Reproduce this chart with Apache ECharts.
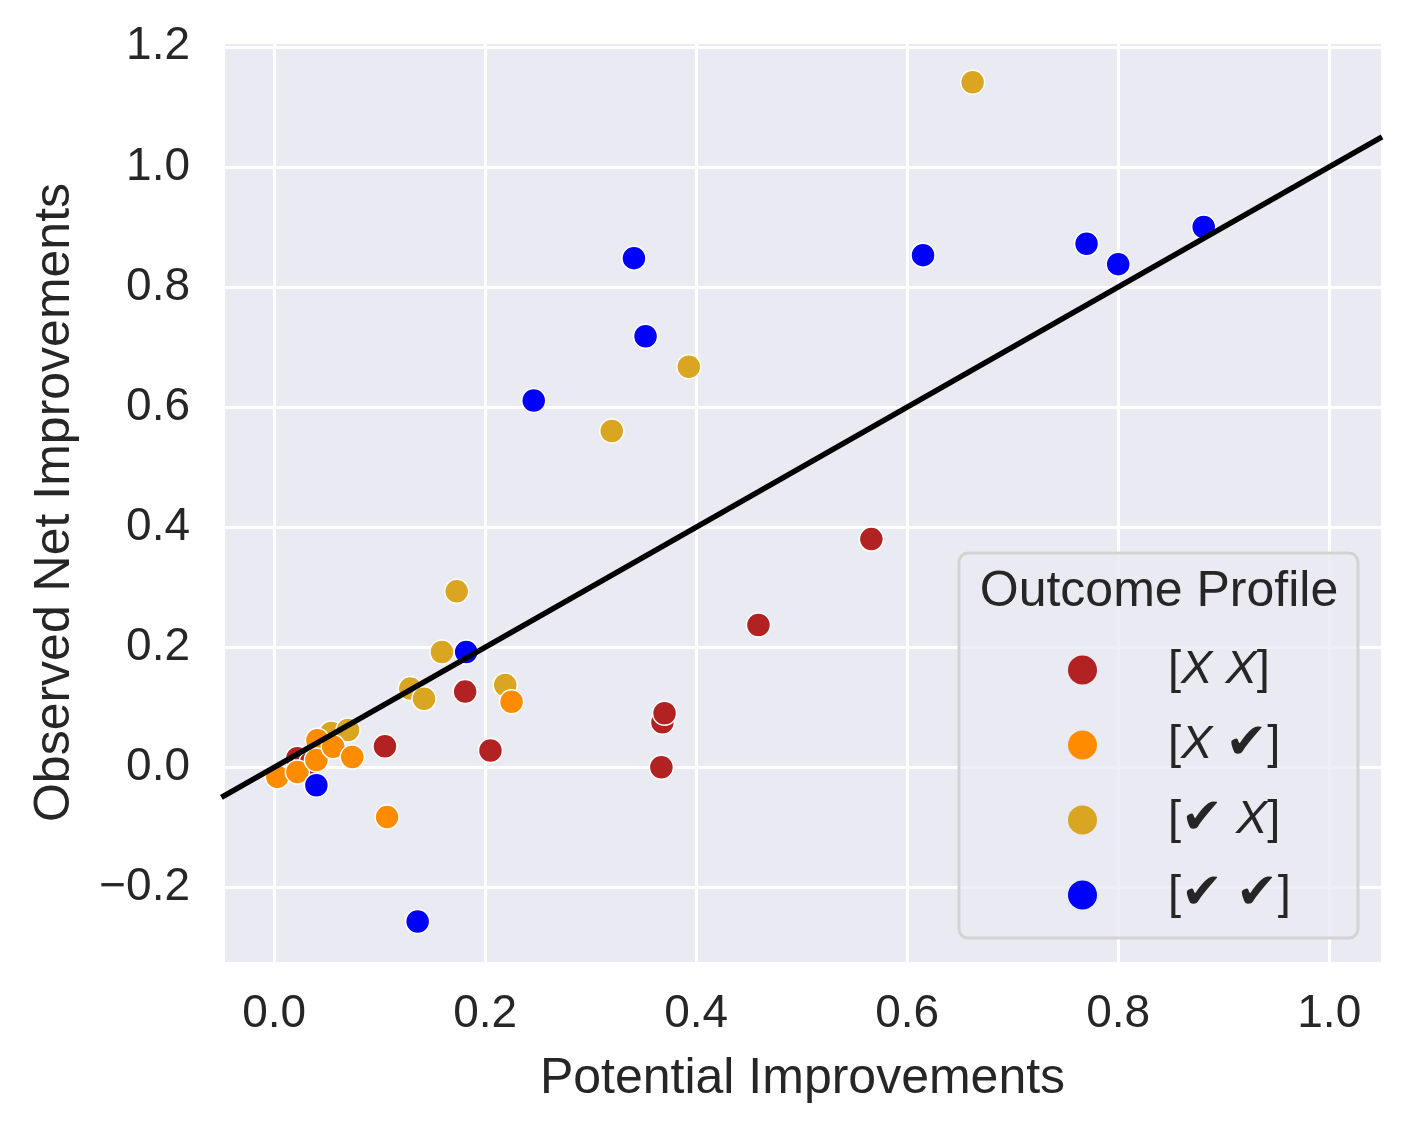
<!DOCTYPE html>
<html lang="en">
<head>
    <meta charset="UTF-8">
    <title>Outcome Profile</title>
    <script type="text/javascript" src="https://cdn.jsdelivr.net/npm/echarts@6/dist/echarts.min.js"></script>
    <style>
        html, body { margin: 0; padding: 0; background: #fff; }
    </style>
</head>
<body>
<div id="main" style="width: 1413px;height:1132px;"></div>

<script type="text/javascript">
    // data: [potential, observed]
    var profileNames = ['[X X]', '[X ✔]', '[✔ X]', '[✔ ✔]'];
    var profileColors = ['#b22222', '#ff8c00', '#daa520', '#0000ff'];

    var xxPoints = [[0.022, 0.015], [0.030, 0.009], [0.035, 0.008], [0.105, 0.035], [0.181, 0.126],
        [0.205, 0.028], [0.367, 0.000], [0.368, 0.075], [0.370, 0.090], [0.459, 0.237], [0.566, 0.380]];
    var xcPoints = [[0.003, -0.016], [0.022, -0.008], [0.041, 0.045], [0.040, 0.012], [0.056, 0.034],
        [0.074, 0.017], [0.107, -0.083], [0.225, 0.109]];
    var cxPoints = [[0.054, 0.057], [0.070, 0.062], [0.129, 0.131], [0.142, 0.114], [0.159, 0.192],
        [0.173, 0.293], [0.219, 0.137], [0.320, 0.560], [0.393, 0.667], [0.662, 1.141]];
    var ccPoints = [[0.040, -0.030], [0.136, -0.257], [0.182, 0.192], [0.246, 0.611], [0.341, 0.848],
        [0.352, 0.718], [0.615, 0.853], [0.770, 0.872], [0.800, 0.838], [0.881, 0.900]];

    // y = x reference line
    var refLine = [[-0.05, -0.05], [1.05, 1.05]];

    var xRange = [-0.0485, 1.05];
    var yRange = [-0.326, 1.208];

    var textColor = '#262626';
    var fontFamily = '"Liberation Sans", Arial, "DejaVu Sans", sans-serif';

    function tickLabel(v) {
        var k = v / 0.2;
        if (Math.abs(k - Math.round(k)) > 1e-6) return '';
        var s = Math.abs(v).toFixed(1);
        return v < -1e-9 ? '\u2212' + s : s;
    }

    // legend label: italic X, heavy check marks
    function legendLabel(name) {
        var body = name.replace(/X/g, '{i|X}').replace(/✔/g, '{c|✔}');
        return '{sp| }' + body.replace('[', '{t|[}').replace(']', '{t|]}').replace(' ', '{g| }');
    }

    var pointSets = [xxPoints, xcPoints, cxPoints, ccPoints];
    // drawing order in the picture: red, goldenrod, orange, blue
    var pointZ = [2, 4, 3, 5];

    var series = pointSets.map(function (pts, i) {
        return {
            name: profileNames[i],
            type: 'scatter',
            data: pts,
            symbolSize: 24,
            z: pointZ[i],
            itemStyle: {color: profileColors[i], borderColor: '#ffffff', borderWidth: 1.5, opacity: 1},
            emphasis: {disabled: true}
        };
    });
    series.push({
        type: 'line',
        data: refLine,
        symbol: 'none',
        z: 8,
        clip: true,
        lineStyle: {color: '#000000', width: 5.5},
        emphasis: {disabled: true}
    });

    var myChart = echarts.init(document.getElementById('main'));

    var option = {
        animation: false,
        textStyle: {fontFamily: fontFamily, color: textColor},
        grid: {
            left: 223, right: 31, top: 42, bottom: 169,
            show: true, backgroundColor: '#eaeaf2', borderWidth: 0
        },
        xAxis: {
            type: 'value',
            min: xRange[0], max: xRange[1],
            splitNumber: 5,
            name: 'Potential Improvements',
            nameLocation: 'middle',
            nameGap: 91,
            nameTextStyle: {fontSize: 50, color: textColor, fontFamily: fontFamily},
            axisLine: {show: false},
            axisTick: {show: false},
            axisLabel: {fontSize: 46, color: textColor, margin: 28, formatter: tickLabel, fontFamily: fontFamily},
            splitLine: {show: true, lineStyle: {color: '#ffffff', width: 3}}
        },
        yAxis: {
            type: 'value',
            min: yRange[0], max: yRange[1],
            splitNumber: 7,
            name: 'Observed Net Improvements',
            nameLocation: 'middle',
            nameGap: 143,
            nameTextStyle: {fontSize: 50, color: textColor, fontFamily: fontFamily},
            axisLine: {show: false},
            axisTick: {show: false},
            axisLabel: {fontSize: 46, color: textColor, margin: 33, formatter: tickLabel, fontFamily: fontFamily},
            splitLine: {show: true, lineStyle: {color: '#ffffff', width: 3}}
        },
        legend: {
            data: profileNames,
            orient: 'vertical',
            left: 1063,
            top: 640,
            icon: 'circle',
            itemWidth: 29,
            itemHeight: 29,
            itemGap: 25,
            itemStyle: {borderWidth: 0},
            selectedMode: false,
            formatter: legendLabel,
            textStyle: {
                fontSize: 47, color: textColor, fontFamily: fontFamily, lineHeight: 50,
                rich: {
                    sp: {width: 66, lineHeight: 50},
                    g: {width: 13, lineHeight: 50},
                    t: {fontSize: 47, lineHeight: 50, color: textColor, fontFamily: fontFamily},
                    i: {fontSize: 47, lineHeight: 50, color: textColor, fontFamily: fontFamily, fontStyle: 'italic'},
                    c: {fontSize: 50, lineHeight: 50, color: textColor, fontFamily: '"DejaVu Sans", sans-serif'}
                }
            }
        },
        graphic: [
            {
                type: 'rect',
                z: 3,
                shape: {x: 959, y: 553, width: 399, height: 385, r: 9},
                style: {fill: 'rgba(234,234,242,0.8)', stroke: '#d3d3d3', lineWidth: 3}
            },
            {
                type: 'text',
                z: 4,
                x: 1159,
                y: 592,
                style: {
                    text: 'Outcome Profile',
                    fill: textColor,
                    font: '50px ' + fontFamily,
                    align: 'center',
                    verticalAlign: 'middle'
                }
            }
        ],
        series: series
    };

    myChart.setOption(option);
</script>
</body>
</html>
